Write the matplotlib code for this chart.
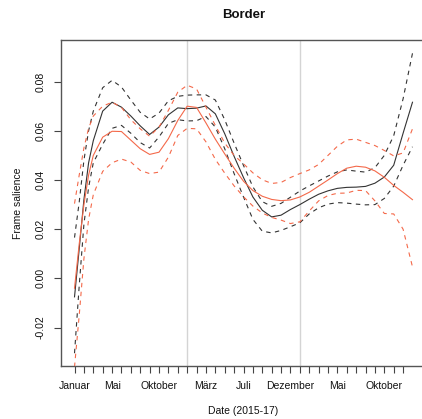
import matplotlib
matplotlib.use("Agg")
import matplotlib.pyplot as plt

plt.rcParams['font.family'] = ['Liberation Sans', 'DejaVu Sans']

# months since January 2015
months = [0, 0.5, 1, 1.5, 2] + list(range(3, 37))

black_fit = [-0.0075, 0.012, 0.032, 0.047, 0.056, 0.0680, 0.0716, 0.0696, 0.0660, 0.0620,
             0.0585, 0.0615, 0.0665, 0.0693, 0.0690, 0.0692, 0.0701, 0.0669, 0.0588, 0.0496,
             0.0410, 0.0331, 0.0277, 0.0250, 0.0257, 0.0280, 0.0300, 0.0322, 0.0342, 0.0356,
             0.0366, 0.0370, 0.0371, 0.0374, 0.0387, 0.0412, 0.0460, 0.0590, 0.0716]
black_hi = [0.0166, 0.031, 0.048, 0.060, 0.068, 0.0775, 0.0805, 0.0778, 0.0725, 0.0675,
            0.0648, 0.0672, 0.0722, 0.0740, 0.0745, 0.0746, 0.0746, 0.0725, 0.0645, 0.0550,
            0.0459, 0.0372, 0.0312, 0.0293, 0.0305, 0.0330, 0.0355, 0.0376, 0.0396, 0.0416,
            0.0433, 0.0441, 0.0436, 0.0432, 0.0450, 0.0500, 0.0580, 0.0730, 0.0915]
black_lo = [-0.0304, -0.003, 0.022, 0.037, 0.047, 0.0545, 0.0610, 0.0622, 0.0590, 0.0552,
            0.0530, 0.0575, 0.0630, 0.0645, 0.0640, 0.0641, 0.0658, 0.0615, 0.0527, 0.0426,
            0.0331, 0.0240, 0.0192, 0.0185, 0.0195, 0.0210, 0.0226, 0.0262, 0.0287, 0.0302,
            0.0308, 0.0306, 0.0302, 0.0299, 0.0300, 0.0325, 0.0375, 0.0460, 0.0535]
red_fit = [-0.004, 0.014, 0.030, 0.042, 0.050, 0.0574, 0.0598, 0.0597, 0.0562, 0.0527,
           0.0504, 0.0513, 0.0568, 0.0642, 0.0700, 0.0695, 0.0632, 0.0566, 0.0506, 0.0448,
           0.0395, 0.0357, 0.0334, 0.0321, 0.0316, 0.0319, 0.0331, 0.0350, 0.0375, 0.0400,
           0.0426, 0.0448, 0.0456, 0.0452, 0.0437, 0.0411, 0.0378, 0.0350, 0.0320]
red_hi = [0.0304, 0.042, 0.053, 0.061, 0.066, 0.0700, 0.0716, 0.0695, 0.0645, 0.0608,
          0.0578, 0.0615, 0.0683, 0.0757, 0.0785, 0.0770, 0.0696, 0.0622, 0.0550, 0.0500,
          0.0466, 0.0429, 0.0401, 0.0386, 0.0390, 0.0410, 0.0426, 0.0441, 0.0463, 0.0500,
          0.0537, 0.0563, 0.0566, 0.0553, 0.0540, 0.0520, 0.0498, 0.0510, 0.0608]
red_lo = [-0.036, -0.015, 0.008, 0.024, 0.034, 0.0435, 0.0470, 0.0485, 0.0473, 0.0439,
          0.0426, 0.0432, 0.0493, 0.0581, 0.0610, 0.0608, 0.0555, 0.0484, 0.0428, 0.0376,
          0.0332, 0.0294, 0.0266, 0.0248, 0.0237, 0.0223, 0.0230, 0.0274, 0.0315, 0.0337,
          0.0346, 0.0347, 0.0358, 0.0357, 0.0315, 0.0264, 0.0262, 0.0200, 0.0047]

tick_months = list(range(0, 36))
label_months = [0, 4, 9, 14, 18, 23, 28, 33]
label_names = ["Januar", "Mai", "Oktober", "März", "Juli", "Dezember", "Mai", "Oktober"]
year_breaks = [12, 24]
y_ticks = [-0.02, 0.00, 0.02, 0.04, 0.06, 0.08]

dark = "#333333"
red = "#F4694A"

fig = plt.figure(figsize=(4.22, 4.19), dpi=100)
ax = fig.add_axes([61 / 422, 53 / 419, 365 / 422, 326 / 419])

for xb in year_breaks:
    ax.axvline(xb, color="#d4d4d4", lw=1.0, zorder=1)

lw = 0.8
ax.plot(months, black_fit, color=dark, lw=lw, zorder=3)
ax.plot(months, black_hi, color=dark, lw=lw, dashes=(4, 4), zorder=3)
ax.plot(months, black_lo, color=dark, lw=lw, dashes=(4, 4), zorder=3)
ax.plot(months, red_fit, color=red, lw=lw, zorder=3)
ax.plot(months, red_hi, color=red, lw=lw, dashes=(4, 4), zorder=3)
ax.plot(months, red_lo, color=red, lw=lw, dashes=(4, 4), zorder=3)

ax.set_xlim(-1.44, 37.44)
ax.set_ylim(-0.0356, 0.0969)

ax.set_xticks(tick_months)
ax.set_xticklabels([label_names[label_months.index(m)] if m in label_months else ""
                    for m in tick_months])
ax.set_yticks(y_ticks)
ax.set_yticklabels([f"{v:.2f}" for v in y_ticks], rotation=90, va="center")

ax.tick_params(axis="both", length=5, width=0.8, color="#444444",
               labelsize=7.5, labelcolor="#111111")
ax.tick_params(axis="x", pad=6)
ax.tick_params(axis="y", pad=6)

for side in ["left", "bottom", "top"]:
    ax.spines[side].set_color("#555555")
    ax.spines[side].set_linewidth(1.0)
ax.spines["right"].set_visible(False)

fig.text(243.5 / 422, 1 - 15 / 419, "Border", ha="center", va="center",
         fontsize=9.5, fontweight="bold", color="#111111")
fig.text(243.5 / 422, 1 - 411 / 419, "Date (2015-17)", ha="center", va="center",
         fontsize=7.5, color="#111111")
fig.text(18 / 422, 1 - 203 / 419, "Frame salience", ha="center", va="center",
         rotation=90, fontsize=7.5, color="#111111")

fig.savefig("out.png", dpi=100)
